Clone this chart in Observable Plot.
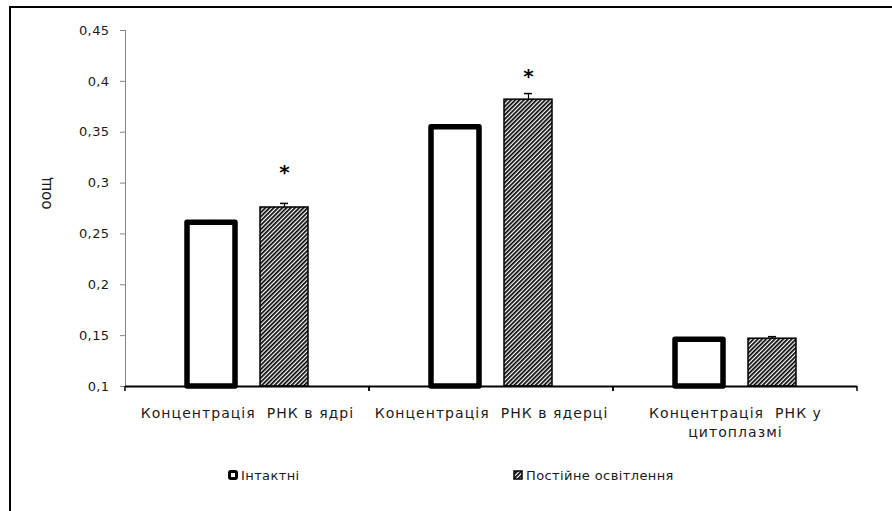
<!DOCTYPE html>
<html>
<head>
<meta charset="utf-8">
<script src="https://cdn.jsdelivr.net/npm/d3@7"></script>
<script src="https://cdn.jsdelivr.net/npm/@observablehq/plot@0.6"></script>
<style>
  html, body { margin: 0; padding: 0; background: #fff; }
  body { width: 892px; height: 511px; overflow: hidden; position: relative; }
  #border { position: absolute; left: 9px; top: 6px; width: 1000px; height: 1000px; border-top: 2px solid #000; border-left: 2px solid #000; box-sizing: border-box; }
  #chart { position: absolute; left: 0; top: 0; }
  #chart g[aria-label="fx-axis tick label"] text { letter-spacing: 1.05px; }
  #chart g[aria-label="y-axis tick label"] text { letter-spacing: 0.4px; }
  #legend { position: absolute; left: 0; top: 466px; width: 892px; height: 22px; font-family: 'DejaVu Sans', sans-serif; font-size: 13px; letter-spacing: 0.4px; color: #1a1a1a; }
  .item { position: absolute; top: 0; display: flex; align-items: center; height: 18px; white-space: nowrap; }
  .item svg { margin-right: 3px; }
</style>
</head>
<body>
<div id="border"></div>
<div id="chart"></div>
<div id="legend"></div>
<script>
// ---- data ----
const categories = ["Концентрація РНК в ядрі", "Концентрація РНК в ядерці", "Концентрація РНК у цитоплазмі"];
const categoryLabels = ["Концентрація\u00a0 РНК в ядрі", "Концентрація\u00a0 РНК в ядерці", "Концентрація\u00a0 РНК у\nцитоплазмі"];
const series = ["Інтактні", "Постійне освітлення"];
const intactMeans = [0.261, 0.355, 0.146];
const intactErrors = [0.002, 0.002, 0.001];
const lightMeans = [0.276, 0.382, 0.147];
const lightErrors = [0.004, 0.006, 0.002];
const asteriskLevels = [0.31, 0.405, null];
const yTicks = [0.1, 0.15, 0.2, 0.25, 0.3, 0.35, 0.4, 0.45];
const yLabel = "оощ";
const baseline = 0.1;

const rows = categories.flatMap((c, i) => [
  {category: c, series: series[0], value: intactMeans[i], err: intactErrors[i], star: null},
  {category: c, series: series[1], value: lightMeans[i], err: lightErrors[i], star: asteriskLevels[i]}
]);
const intactRows = rows.filter(d => d.series === series[0]);
const lightRows = rows.filter(d => d.series === series[1]);

function boundaryTicks(index, scales, values, dimensions) {
  const [r0, r1] = scales.x.range();
  const y0 = scales.y(baseline);
  const g = d3.create("svg:g").attr("stroke", "#000").attr("stroke-width", 1.5);
  for (const x of [r0, r1]) g.append("line").attr("x1", x).attr("x2", x).attr("y1", y0).attr("y2", y0 + 5);
  return g.node();
}

const chart = Plot.plot({
  width: 892,
  height: 445,
  marginLeft: 124,
  marginRight: 35,
  marginTop: 30,
  marginBottom: 59,
  style: {fontFamily: "'DejaVu Sans', sans-serif", fontSize: "13px", color: "#1a1a1a", background: "transparent", overflow: "visible"},
  facet: {marginTop: 0, marginBottom: 0, marginLeft: 0, marginRight: 0},
  fx: {domain: categories, padding: 0, label: null},
  x: {domain: series, paddingInner: 0.347, paddingOuter: 0.833, axis: null},
  y: {domain: [0.1, 0.45]},
  marks: [
    Plot.axisFx({anchor: "bottom", tickSize: 0, tickPadding: 17, fontSize: 14, lineHeight: 1.42, label: null,
      tickFormat: c => categoryLabels[categories.indexOf(c)]}),
    Plot.axisY({ticks: yTicks, tickFormat: d => String(d).replace(".", ","), tickSize: 5, tickPadding: 11,
      stroke: "#868686", fill: "#1a1a1a", label: null}),
    Plot.frame({anchor: "left", facetAnchor: "left", stroke: "#868686"}),
    Plot.text([yLabel], {frameAnchor: "left", facetAnchor: "left", rotate: -90, dx: -79, dy: 1, fontSize: 15}),
    Plot.barY(intactRows, {fx: "category", x: "series", y1: baseline, y2: "value", fill: "white", stroke: "#000", strokeWidth: 5.5, strokeLinejoin: "round"}),
    Plot.barY(lightRows, {fx: "category", x: "series", y1: baseline, y2: "value", fill: "url(#hatch)", stroke: "#000", strokeWidth: 1.5}),
    Plot.ruleX(rows, {fx: "category", x: "series", y1: "value", y2: d => d.value + d.err, stroke: "#000", strokeWidth: 1.2}),
    Plot.tickY(rows, {fx: "category", x: "series", y: d => d.value + d.err, inset: 20, stroke: "#000", strokeWidth: 1.5}),
    Plot.text(rows.filter(d => d.star != null), {fx: "category", x: "series", y: "star", text: () => "*", fontSize: 20, fontWeight: "bold", fill: "#000", lineAnchor: "middle", dy: 0}),
    Plot.ruleY([baseline], {stroke: "#000", strokeWidth: 2}),
    boundaryTicks
  ]
});

d3.select(chart).insert("defs", ":first-child").html(
  `<pattern id="hatch" width="3" height="3" patternUnits="userSpaceOnUse" patternTransform="rotate(45)">
     <rect width="3" height="3" fill="#fff"/><rect width="1.7" height="3" fill="#000"/>
   </pattern>`);
document.getElementById("chart").appendChild(chart);

// ---- legend ----
const legendLeft = [228, 513];
const legend = d3.select("#legend");
series.forEach((s, i) => {
  const item = legend.append("div").attr("class", "item").style("left", legendLeft[i] + "px");
  const sw = item.append("svg").attr("width", 10).attr("height", 10);
  if (i === 0) {
    sw.append("rect").attr("x", 1.5).attr("y", 1.5).attr("width", 7).attr("height", 7).attr("rx", 1.5)
      .attr("fill", "#fff").attr("stroke", "#000").attr("stroke-width", 3);
  } else {
    sw.append("defs").html(`<pattern id="hatch2" width="3" height="3" patternUnits="userSpaceOnUse" patternTransform="rotate(45)"><rect width="3" height="3" fill="#fff"/><rect width="1.7" height="3" fill="#000"/></pattern>`);
    sw.append("rect").attr("x", 1).attr("y", 1).attr("width", 8).attr("height", 8)
      .attr("fill", "url(#hatch2)").attr("stroke", "#000").attr("stroke-width", 1.5);
  }
  item.append("span").text(s);
});
</script>
</body>
</html>
